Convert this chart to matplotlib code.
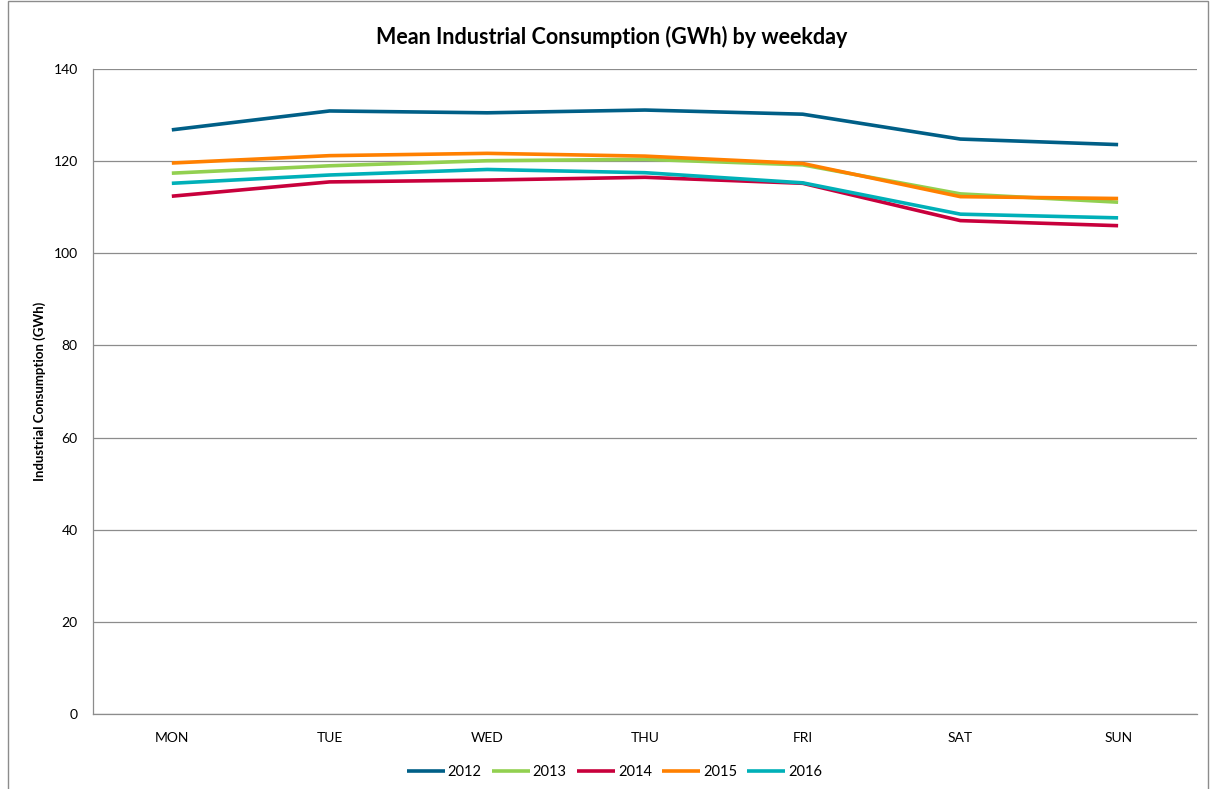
import matplotlib.pyplot as plt
from matplotlib.patches import Rectangle

plt.rcParams['font.family'] = ['Lato', 'DejaVu Sans']

days = ['MON', 'TUE', 'WED', 'THU', 'FRI', 'SAT', 'SUN']
y2012 = [126.8, 130.9, 130.5, 131.1, 130.2, 124.8, 123.6]
y2013 = [117.4, 119.0, 120.1, 120.4, 119.2, 112.9, 111.1]
y2014 = [112.4, 115.5, 115.9, 116.5, 115.2, 107.1, 106.0]
y2015 = [119.6, 121.2, 121.7, 121.1, 119.5, 112.3, 111.9]
y2016 = [115.2, 117.0, 118.2, 117.5, 115.3, 108.5, 107.7]
yticks = [0, 20, 40, 60, 80, 100, 120, 140]

series = [('2012', y2012, '#005f87'),
          ('2013', y2013, '#92d050'),
          ('2014', y2014, '#c8003c'),
          ('2015', y2015, '#ff8000'),
          ('2016', y2016, '#00b0b8')]

fig = plt.figure(figsize=(12.12, 7.89), dpi=100)
ax = fig.add_axes([0.0767, 0.095, 0.9109, 0.8175])

x = range(len(days))
for name, vals, col in series:
    ax.plot(x, vals, color=col, lw=2.6, label=name, solid_capstyle='butt')

ax.set_xlim(-0.5, 6.5)
ax.set_ylim(0, 140)
ax.set_xticks(list(x))
ax.set_xticklabels(days)
ax.set_yticks(yticks)
ax.tick_params(axis='both', length=0, labelsize=10, colors='#000000')
ax.tick_params(axis='x', pad=13)
ax.tick_params(axis='y', pad=11)
ax.grid(axis='y', color='#8c8c8c', lw=0.9)
ax.set_axisbelow(True)
for s in ['top', 'right']:
    ax.spines[s].set_visible(False)
for s in ['left', 'bottom']:
    ax.spines[s].set_color('#8c8c8c')
    ax.spines[s].set_linewidth(0.9)

ax.set_ylabel('Industrial Consumption (GWh)', fontsize=9.5, fontweight='bold', labelpad=5)
fig.text(0.505, 0.953, 'Mean Industrial Consumption (GWh) by weekday',
         ha='center', va='center', fontsize=15.5, fontweight='bold')

fig.legend(*ax.get_legend_handles_labels(), loc='center', bbox_to_anchor=(0.507, 0.022),
           ncol=5, frameon=False, fontsize=10.5, handlelength=2.6,
           columnspacing=0.7, handletextpad=0.2)

# outer chart frame
fig.add_artist(Rectangle((0.0066, -0.01), 0.99, 1.009, transform=fig.transFigure,
                         fill=False, edgecolor='#8c8c8c', lw=1.0))

fig.savefig('out.png', dpi=100)
